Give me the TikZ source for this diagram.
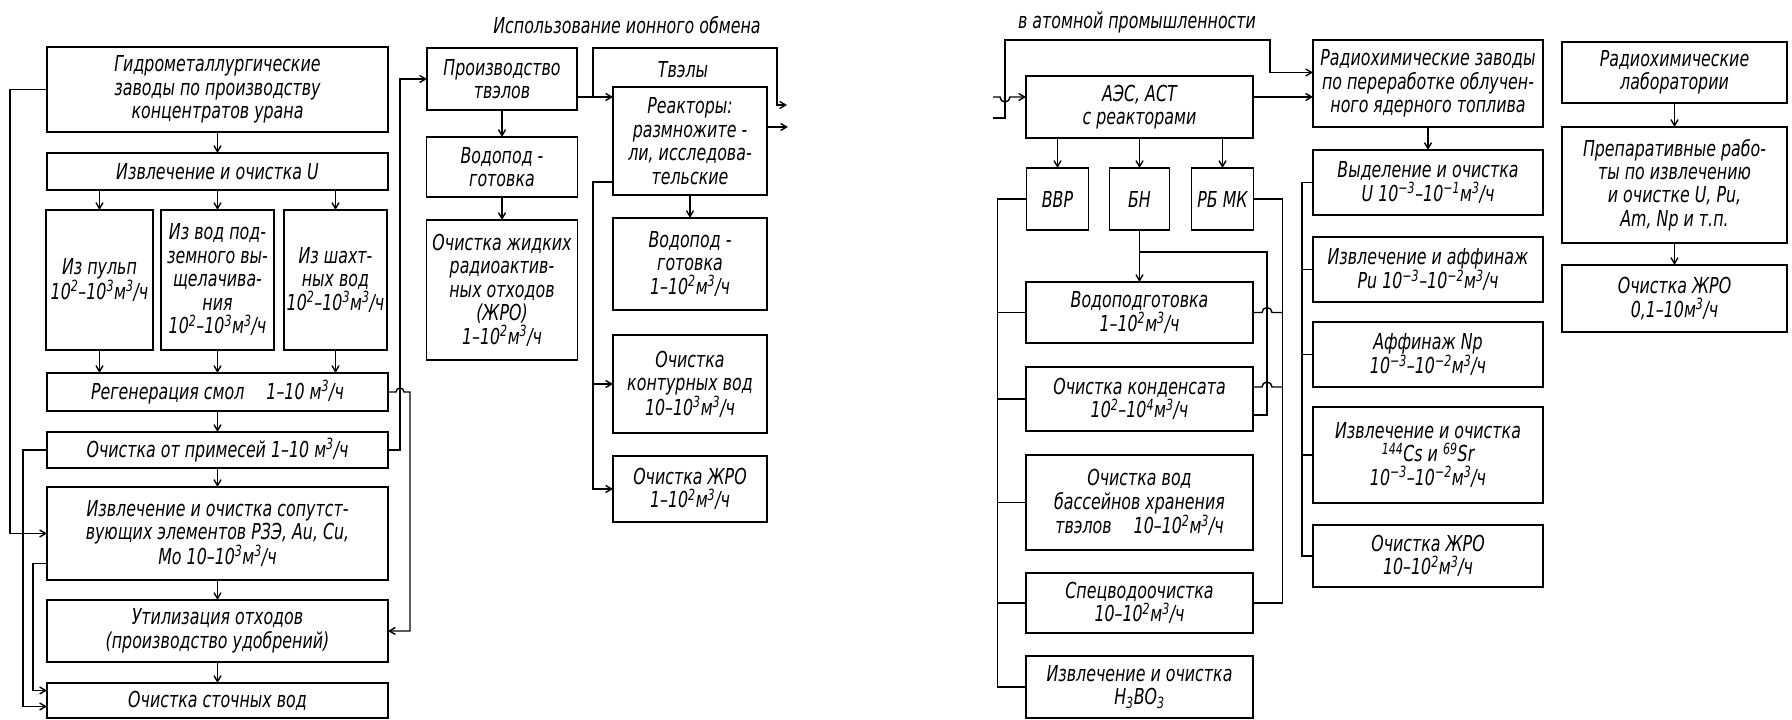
\documentclass[tikz,border=0pt]{standalone}
\usepackage{fontspec}
\setmainfont{DejaVu Sans}[FakeStretch=0.72]
\usetikzlibrary{arrows.meta,positioning}
\newcommand{\pw}[1]{\textsuperscript{#1}}
\newcommand{\mch}{м\pw{3}/ч}
\tikzset{
  procnode/.style={rectangle,draw,line width=1.7pt,outer sep=0pt,inner sep=2pt,
    align=center,font=\itshape\fontsize{22}{23.5}\selectfont},
  arr/.style={-{Straight Barb[length=6pt,width=7pt]},line width=1.4pt},
  link/.style={line width=1.4pt},
  ttl/.style={font=\itshape\fontsize{22}{24}\selectfont}
}

\begin{document}
\begin{tikzpicture}[x=1pt,y=1pt]
  \fill[white] (0,0) rectangle (1792,720);
  \useasboundingbox (0,0) rectangle (1792,720);

  % Titles
  \node[ttl] (title1) at (627,695) {Использование ионного обмена};
  \node[ttl] (title2) at (1137,698) {в атомной промышленности};

  % Left page: uranium plants
  \node[procnode,minimum width=341pt,minimum height=85pt,anchor=north] (hydro) at (217.5,673)
    {Гидрометаллургические\\заводы по производству\\концентратов урана};
  \node[procnode,minimum width=341pt,minimum height=37pt,below=21pt of hydro] (extrU)
    {Извлечение и очистка U};
  \node[procnode,minimum width=113pt,minimum height=140pt,below=20pt of extrU] (leach)
    {Из вод под-\\земного вы-\\щелачива-\\ния\\10\pw{2}–10\pw{3}\mch};
  \node[procnode,minimum width=107pt,minimum height=140pt,left=8pt of leach] (pulp)
    {Из пульп\\10\pw{2}–10\pw{3}\mch};
  \node[procnode,minimum width=103pt,minimum height=140pt,right=10pt of leach] (mine)
    {Из шахт-\\ных вод\\10\pw{2}–10\pw{3}\mch};
  \node[procnode,minimum width=341pt,minimum height=38pt,below=23pt of leach] (regen)
    {Регенерация смол\quad 1–10 \mch};
  \node[procnode,minimum width=341pt,minimum height=36pt,below=21pt of regen] (purif)
    {Очистка от примесей 1–10 \mch};
  \node[procnode,minimum width=341pt,minimum height=93pt,below=19pt of purif] (assoc)
    {Извлечение и очистка сопутст-\\вующих элементов РЗЭ, Au, Cu,\\Mo 10–10\pw{3}\mch};
  \node[procnode,minimum width=341pt,minimum height=62pt,below=20pt of assoc] (util)
    {Утилизация отходов\\(производство удобрений)};
  \node[procnode,minimum width=341pt,minimum height=35pt,below=21pt of util] (waste)
    {Очистка сточных вод};

  \draw[arr] (hydro) -- (extrU);
  \foreach \n in {pulp,leach,mine} {
    \draw[arr] (extrU.south -| \n.north) -- (\n.north);
    \draw[arr] (\n.south) -- (regen.north -| \n.south);
  }
  \draw[arr] (regen) -- (purif);
  \draw[arr] (purif) -- (assoc);
  \draw[arr] (assoc) -- (util);
  \draw[arr] (util) -- (waste);

  \draw[arr] (hydro.west) -- ++(-37,0) |- (assoc.west);
  \draw[arr] (purif.west) -- ++(-24,0) |- ([yshift=-6pt]waste.west);
  \draw[arr] ([yshift=-30pt]assoc.west) -- ++(-14,0) |- ([yshift=10pt]waste.west);
  \draw[arr] (regen.east) -- ++(8,0) arc[start angle=180,end angle=0,radius=4pt]
    -- ++(6,0) |- (util.east);

  % Fuel elements
  \node[procnode,minimum width=150pt,minimum height=62pt,anchor=north] (fuelfab) at (502,672)
    {Производство\\твэлов};
  \node[procnode,minimum width=151pt,minimum height=60pt,below=27pt of fuelfab] (wprep1)
    {Водопод -\\готовка};
  \node[procnode,minimum width=151pt,minimum height=140pt,below=23pt of wprep1] (lrw1)
    {Очистка жидких\\радиоактив-\\ных отходов\\(ЖРО)\\1–10\pw{2}\mch};
  \draw[arr] (purif.east) -- ++(12,0) |- (fuelfab.west);
  \draw[arr] (fuelfab) -- (wprep1);
  \draw[arr] (wprep1) -- (lrw1);

  % Reactors
  \node[procnode,minimum width=154pt,minimum height=108pt,anchor=north] (reactor) at (690,633)
    {Реакторы:\\размножите -\\ли, исследова-\\тельские};
  \node[procnode,minimum width=154pt,minimum height=92pt,below=23pt of reactor] (wprep2)
    {Водопод -\\готовка\\1–10\pw{2}\mch};
  \node[procnode,minimum width=154pt,minimum height=98pt,below=25pt of wprep2] (loopw)
    {Очистка\\контурных вод\\10–10\pw{3}\mch};
  \node[procnode,minimum width=154pt,minimum height=66pt,below=23pt of loopw] (lrw2)
    {Очистка ЖРО\\1–10\pw{2}\mch};
  \node[ttl] (tvlabel) at (683,650) {Твэлы};

  \coordinate (fuelout) at ([yshift=-18pt]fuelfab.east);
  \coordinate (tvout) at (787,615);
  \coordinate (reout) at (788,593);
  \draw[arr] (fuelout) -- (fuelout -| reactor.west);
  \draw[arr] ([xshift=16pt]fuelout) -- ++(0,49) -| ([xshift=-10pt]tvout) -- (tvout);
  \draw[arr] (reout -| reactor.east) -- (reout);
  \draw[arr] (reactor) -- (wprep2);
  \coordinate (reacin) at ([yshift=-41pt]reactor.west);
  \coordinate (rbus) at ([xshift=-20pt]reacin);
  \draw[arr] (reacin) -- (rbus) |- (lrw2.west);
  \draw[arr] (rbus |- loopw.west) -- (loopw.west);

  % Right page: NPP
  \node[procnode,minimum width=227pt,minimum height=62pt,anchor=north] (npp) at (1139.5,644)
    {АЭС, АСТ\\с реакторами};
  \node[procnode,minimum width=60pt,minimum height=62pt,below=30pt of npp] (bn) {БН};
  \node[procnode,minimum width=62pt,minimum height=62pt,left=21pt of bn] (vvr) {ВВР};
  \node[procnode,minimum width=62pt,minimum height=62pt,right=22pt of bn] (rbmk) {РБ МК};
  \node[procnode,minimum width=227pt,minimum height=61pt,below=52pt of bn] (wprep3)
    {Водоподготовка\\1–10\pw{2}\mch};
  \node[procnode,minimum width=227pt,minimum height=64pt,below=24pt of wprep3] (cond)
    {Очистка конденсата\\10\pw{2}–10\pw{4}\mch};
  \node[procnode,minimum width=227pt,minimum height=95pt,below=24pt of cond] (pool)
    {Очистка вод\\бассейнов хранения\\твэлов\quad 10–10\pw{2}\mch};
  \node[procnode,minimum width=227pt,minimum height=60pt,below=23pt of pool] (spec)
    {Спецводоочистка\\10–10\pw{2}\mch};
  \node[procnode,minimum width=227pt,minimum height=62pt,below=23pt of spec] (boric)
    {Извлечение и очистка\\H\textsubscript{3}BO\textsubscript{3}};

  \foreach \n in {vvr,bn,rbmk}
    \draw[arr] (npp.south -| \n.north) -- (\n.north);
  \draw[arr] (bn) -- (wprep3);

  \coordinate (condin) at ([yshift=-16pt]cond.east);
  \draw[link] ([yshift=-22pt]bn.south) -| ([xshift=14pt]condin) -- (condin);
  \coordinate (lbus) at ([xshift=-29pt]vvr.west);
  \draw[link] (vvr.west) -- (lbus) |- (boric.west);
  \foreach \n in {wprep3,cond,pool,spec}
    \draw[link] (lbus |- \n.west) -- (\n.west);
  \draw[link] (rbmk.east) -- ++(29,0) |- (spec.east);
  \draw[link] (wprep3.east) -- ++(9,0) arc[start angle=180,end angle=0,radius=5pt] -- ++(10,0);
  \draw[link] ([yshift=12pt]cond.east) -- ++(9,0) arc[start angle=180,end angle=0,radius=5pt] -- ++(10,0);

  % Radiochemical plants
  \node[procnode,minimum width=230pt,minimum height=87pt,anchor=north] (rcp) at (1428,680)
    {Радиохимические заводы\\по переработке облучен-\\ного ядерного топлива};
  \node[procnode,minimum width=230pt,minimum height=65pt,below=23pt of rcp] (uext)
    {Выделение и очистка\\U 10\pw{−3}–10\pw{−1}\mch};
  \node[procnode,minimum width=230pt,minimum height=65pt,below=22pt of uext] (puext)
    {Извлечение и аффинаж\\Pu 10\pw{−3}–10\pw{−2}\mch};
  \node[procnode,minimum width=230pt,minimum height=65pt,below=20pt of puext] (npaff)
    {Аффинаж Np\\10\pw{−3}–10\pw{−2}\mch};
  \node[procnode,minimum width=230pt,minimum height=96pt,below=20pt of npaff] (cssr)
    {Извлечение и очистка\\\pw{144}Cs и \pw{69}Sr\\10\pw{−3}–10\pw{−2}\mch};
  \node[procnode,minimum width=230pt,minimum height=62pt,below=22pt of cssr] (lrw3)
    {Очистка ЖРО\\10–10\pw{2}\mch};

  \coordinate (tvin) at (993,623);
  \coordinate (rein) at (993,602);
  \coordinate (rcpin) at ([yshift=11pt]rcp.west);
  \coordinate (nppout) at ([yshift=10pt]npp.east);
  \draw[arr] (tvin) -- ++(7,0) arc[start angle=180,end angle=360,radius=5pt]
    -- ([yshift=10pt]npp.west);
  \draw[arr] (rein) -- ++(12,0) -- ++(0,78) -| ([xshift=-43pt]rcpin) -- (rcpin);
  \draw[arr] (nppout) -- (nppout -| rcp.west);

  \draw[arr] (rcp) -- (uext);
  \coordinate (mbus) at ([xshift=-11pt]uext.west);
  \draw[link] (uext.west) -- (mbus) |- (lrw3.west);
  \foreach \n in {puext,npaff,cssr}
    \draw[link] (mbus |- \n.west) -- (\n.west);

  % Laboratories
  \node[procnode,minimum width=225pt,minimum height=61pt,anchor=north] (rlab) at (1674.5,678)
    {Радиохимические\\лаборатории};
  \node[procnode,minimum width=225pt,minimum height=116pt,below=24pt of rlab] (prep)
    {Препаративные рабо-\\ты по извлечению\\и очистке U, Pu,\\Am, Np и т.п.};
  \node[procnode,minimum width=225pt,minimum height=67pt,below=22pt of prep] (lrw4)
    {Очистка ЖРО\\0,1–10\mch};
  \draw[arr] (rlab) -- (prep);
  \draw[arr] (prep) -- (lrw4);

\end{tikzpicture}
\end{document}
